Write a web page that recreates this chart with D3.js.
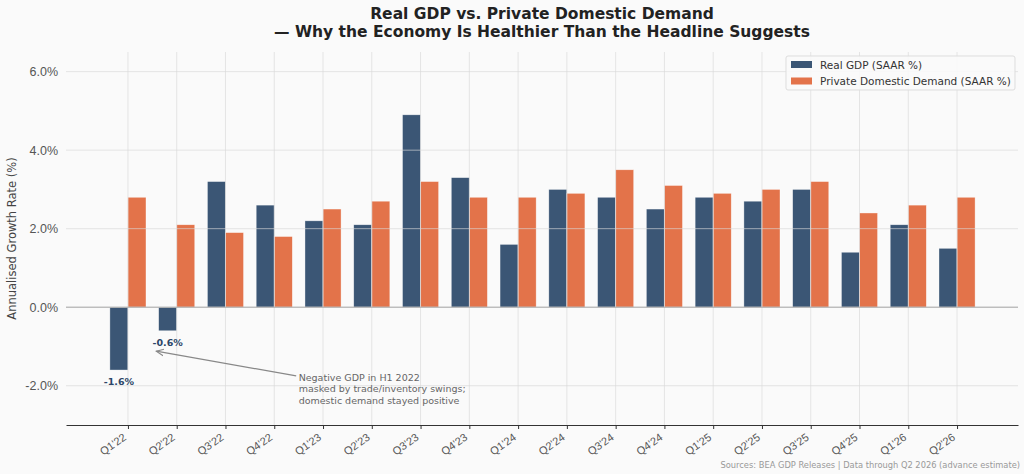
<!DOCTYPE html>
<html>
<head>
<meta charset="utf-8">
<script src="https://cdn.jsdelivr.net/npm/d3@7"></script>
<style>
  body { margin: 0; background: #fafafa; }
  svg { display: block; font-family: "DejaVu Sans", sans-serif; }
</style>
</head>
<body>
<div id="chart"></div>
<script>
// quarters and values
const quarters = ["Q1'22","Q2'22","Q3'22","Q4'22","Q1'23","Q2'23","Q3'23","Q4'23","Q1'24",
                  "Q2'24","Q3'24","Q4'24","Q1'25","Q2'25","Q3'25","Q4'25","Q1'26","Q2'26"]
const realGdp = [-1.6, -0.6, 3.2, 2.6, 2.2, 2.1, 4.9, 3.3, 1.6, 3.0, 2.8, 2.5, 2.8, 2.7, 3.0, 1.4, 2.1, 1.5]
const privateDemand = [2.8, 2.1, 1.9, 1.8, 2.5, 2.7, 3.2, 2.8, 2.8, 2.9, 3.5, 3.1, 2.9, 3.0, 3.2, 2.4, 2.6, 2.8]
const yTicks = [-2, 0, 2, 4, 6]
const seriesNames = ["Real GDP (SAAR %)", "Private Domestic Demand (SAAR %)"]
const labelledNegatives = [0, 1]

const W = 1024, H = 474
const margin = {top: 52, bottom: 49, left: 66, right: 6}
const navy = '#3b5675', orange = '#e3734a'

const svg = d3.select('#chart').append('svg')
    .attr('width', W).attr('height', H)
    .style('background', '#fafafa')

// x is numeric so the bars sit like matplotlib bars around an integer position
const x = d3.scaleLinear()
    .domain([-1.27, quarters.length - 1 + 1.25])
    .range([margin.left, W - margin.right])
const y = d3.scaleLinear()
    .domain([-3, 6.5])
    .range([H - margin.bottom, margin.top])
const bw = 0.37

const g = svg.append('g')

// bars
const series = [realGdp, privateDemand]
series.forEach((vals, s) => {
    g.append('g').selectAll('rect')
        .data(vals)
        .enter()
        .append('rect')
        .attr('x', (d, i) => s === 0 ? x(i - bw) : x(i))
        .attr('width', x(bw) - x(0))
        .attr('y', d => y(Math.max(0, d)))
        .attr('height', d => Math.abs(y(d) - y(0)))
        .attr('fill', s === 0 ? navy : orange)
        .attr('stroke', '#ffffff')
        .attr('stroke-opacity', 0.6)
        .attr('stroke-width', 0.6)
})

// grid over the bars (light, semi transparent)
const grid = g.append('g').attr('stroke', '#d8d8d8').attr('stroke-opacity', 0.65).attr('stroke-width', 1)
grid.selectAll('.hg').data(yTicks).enter().append('line')
    .attr('x1', margin.left).attr('x2', W - margin.right)
    .attr('y1', d => y(d)).attr('y2', d => y(d))
grid.selectAll('.vg').data(quarters).enter().append('line')
    .attr('x1', (d, i) => x(i)).attr('x2', (d, i) => x(i))
    .attr('y1', margin.top).attr('y2', H - margin.bottom)

// zero line
g.append('line')
    .attr('x1', margin.left).attr('x2', W - margin.right)
    .attr('y1', y(0)).attr('y2', y(0))
    .attr('stroke', '#aaaaaa').attr('stroke-width', 1)

// x axis
const xAxis = d3.axisBottom(x)
    .tickValues(d3.range(quarters.length))
    .tickFormat(i => quarters[i])
    .tickSizeInner(4)
    .tickSizeOuter(0)
const xg = svg.append('g')
    .attr('transform', `translate(0 ${H - margin.bottom})`)
    .call(xAxis)
xg.select('.domain').attr('stroke', '#333').attr('stroke-width', 1.2)
xg.selectAll('.tick line').attr('stroke', '#333')
xg.selectAll('.tick text')
    .attr('font-size', 11)
    .attr('fill', '#555')
    .attr('text-anchor', 'end')
    .attr('x', 0).attr('y', 0).attr('dx', 0).attr('dy', 0)
    .attr('transform', 'translate(-1.5 14) rotate(-35)')

// y axis (labels only)
const yAxis = d3.axisLeft(y)
    .tickValues(yTicks)
    .tickFormat(d => d.toFixed(1) + '%')
    .tickSize(0)
    .tickPadding(8)
const yg = svg.append('g')
    .attr('transform', `translate(${margin.left} 0)`)
    .call(yAxis)
yg.select('.domain').remove()
yg.selectAll('.tick text').attr('font-size', 12.5).attr('fill', '#555')

svg.append('text')
    .attr('transform', `translate(16 ${(margin.top + H - margin.bottom) / 2}) rotate(-90)`)
    .attr('text-anchor', 'middle')
    .attr('font-size', 11.5)
    .attr('fill', '#444')
    .text('Annualised Growth Rate (%)')

// value labels on negative GDP bars
g.selectAll('.neg').data(labelledNegatives).enter().append('text')
    .attr('x', i => x(i - bw / 2))
    .attr('y', i => y(realGdp[i]) + 15)
    .attr('text-anchor', 'middle')
    .attr('font-size', 9.5)
    .attr('font-weight', 'bold')
    .attr('fill', '#2c4668')
    .text(i => realGdp[i].toFixed(1) + '%')

// annotation with arrow
svg.append('defs').append('marker')
    .attr('id', 'arr').attr('viewBox', '0 0 10 10')
    .attr('refX', 9).attr('refY', 5)
    .attr('markerWidth', 7).attr('markerHeight', 7)
    .attr('orient', 'auto')
    .append('path').attr('d', 'M0,1 L9,5 L0,9').attr('fill', 'none').attr('stroke', '#888').attr('stroke-width', 1.3)
g.append('line')
    .attr('x1', x(3.45)).attr('y1', y(-1.75))
    .attr('x2', x(0.58)).attr('y2', y(-1.12))
    .attr('stroke', '#888').attr('stroke-width', 1.2)
    .attr('marker-end', 'url(#arr)')
const note = g.append('text')
    .attr('x', x(3.5)).attr('y', y(-1.87))
    .attr('font-size', 9.5).attr('fill', '#666')
;["Negative GDP in H1 2022", "masked by trade/inventory swings;", "domestic demand stayed positive"]
    .forEach((t, k) => note.append('tspan').attr('x', x(3.5)).attr('dy', k === 0 ? 0 : 11.5).text(t))

// legend
const lg = svg.append('g').attr('transform', 'translate(786 56)')
lg.append('rect').attr('width', 229).attr('height', 34).attr('rx', 2)
    .attr('fill', '#fafafa').attr('fill-opacity', 0.9).attr('stroke', '#dddddd')
seriesNames.forEach((n, k) => {
    lg.append('rect').attr('x', 5).attr('y', 5 + k * 16.5).attr('width', 21).attr('height', 7)
        .attr('fill', k === 0 ? navy : orange)
    lg.append('text').attr('x', 34).attr('y', 12.5 + k * 16.5)
        .attr('font-size', 10.5).attr('fill', '#333').text(n)
})

// title
const cx = (margin.left + W - margin.right) / 2
const title = svg.append('text').attr('x', cx).attr('text-anchor', 'middle')
    .attr('font-size', 15.5).attr('font-weight', 'bold').attr('fill', '#222')
title.append('tspan').attr('x', cx).attr('y', 19).text('Real GDP vs. Private Domestic Demand')
title.append('tspan').attr('x', cx).attr('y', 37).text('— Why the Economy Is Healthier Than the Headline Suggests')

// source
svg.append('text').attr('x', W - 4).attr('y', 468).attr('text-anchor', 'end')
    .attr('font-size', 8.3).attr('fill', '#999')
    .text('Sources: BEA GDP Releases | Data through Q2 2026 (advance estimate)')
</script>
</body>
</html>
